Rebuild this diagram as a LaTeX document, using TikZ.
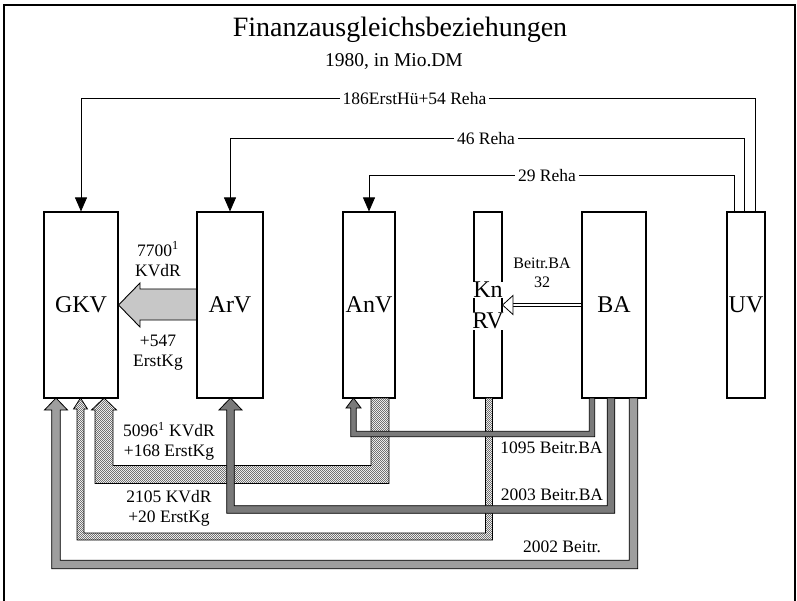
\documentclass[tikz,border=0pt]{standalone}
\usepackage{fontspec}
\setmainfont{Liberation Serif}
\usetikzlibrary{arrows.meta,patterns}
\pgfdeclarepatternformonly{finecheck}{\pgfpointorigin}{\pgfpoint{2.4pt}{2.4pt}}{\pgfpoint{2.4pt}{2.4pt}}{%
  \pgfpathrectangle{\pgfpointorigin}{\pgfpoint{1.2pt}{1.2pt}}%
  \pgfpathrectangle{\pgfpoint{1.2pt}{1.2pt}}{\pgfpoint{1.2pt}{1.2pt}}%
  \pgfusepath{fill}}
% band flow: #1 style, #2 x source, #3 x target, #4 y bottom, #5 half width, #6 head half width, #7 head base y
\newcommand{\bandflow}[7]{%
  \path[#1] (#2-#5,398) -- (#2-#5,#4-#5) -- (#3+#5,#4-#5) -- (#3+#5,#7) -- (#3+#6,#7)
    -- (#3,398) -- (#3-#6,#7) -- (#3-#5,#7) -- (#3-#5,#4+#5) -- (#2+#5,#4+#5) -- (#2+#5,398) -- cycle;}
\begin{document}
\begin{tikzpicture}[x=1pt,y=-1pt,
  box/.style={draw, line width=1.1pt, minimum height=186pt, inner sep=0pt, font=\fontsize{24}{28}\selectfont},
  lbl/.style={font=\fontsize{17.5}{20}\selectfont, inner sep=1pt, align=center},
  thinline/.style={line width=0.8pt},
  tiptri/.style={-{Triangle[width=12pt,length=14pt]}},
  dotband/.style={draw, line width=0.8pt, preaction={fill=white}, pattern=finecheck, pattern color=black!55},
  darkband/.style={draw, line width=0.8pt, fill=black!52},
  midband/.style={draw, line width=0.8pt, fill=black!38}]
\useasboundingbox (0,0) rectangle (797,601);
\fill[white] (0,0) rectangle (797,601);
% frame
\draw[line width=1.2pt] (4,601) -- (4,5) -- (795,5) -- (795,601);
% title
\node[font=\fontsize{28}{32}\selectfont, anchor=base] (title) at (400,37) {Finanzausgleichsbeziehungen};
\node[font=\fontsize{19.5}{22}\selectfont, anchor=base] (subtitle) at (394,67) {1980, in Mio.DM};
% boxes
\node[box, minimum width=74pt] (GKV) at (81,305) {GKV};
\node[box, minimum width=66pt] (ArV) at (230,305) {ArV};
\node[box, minimum width=52pt] (AnV) at (369,305) {AnV};
\node[box, minimum width=28pt] (KnRV) at (488,305) {};
\node[box, minimum width=64pt] (BA) at (614,305) {BA};
\node[box, minimum width=38pt] (UV) at (746,305) {UV};
\node[font=\fontsize{24}{28}\selectfont, fill=white, inner sep=0.5pt] (kn) at (488,290) {Kn};
\node[font=\fontsize{24}{28}\selectfont, fill=white, inner sep=0.5pt] (rv) at (488,321) {RV};
% top connectors
\draw[thinline, tiptri] ([xshift=9pt]UV.north) -- ++(0,-113) -| (GKV.north);
\draw[thinline, tiptri] ([xshift=-2pt]UV.north) -- ++(0,-73) -| (ArV.north);
\draw[thinline, tiptri] ([xshift=-12pt]UV.north) -- ++(0,-36) -| (AnV.north);
\node[lbl, fill=white, inner xsep=3pt] (l186) at (414.5,99) {186ErstHü+54 Reha};
\node[lbl, fill=white, inner xsep=3pt] (l46) at (486,139) {46 Reha};
\node[lbl, fill=white, inner xsep=3pt] (l29) at (547,176) {29 Reha};
% big arrow ArV -> GKV
\path[draw, line width=0.9pt, fill=black!22] ([yshift=16pt]ArV.west) -- (140,289) -- (140,283) -- (GKV.east)
  -- (140,327) -- (140,320) -- ([yshift=-15pt]ArV.west) -- cycle;
\node[lbl] (l7700) at (158,259) {7700\textsuperscript{1}\\KVdR};
\node[lbl] (l547) at (158,353) {+547\\ErstKg};
% BA -> KnRV open arrow
\draw[line width=0.8pt, double=white, double distance=2.6pt] (BA.west) -- (513,305);
\draw[line width=0.8pt, fill=white] (513,295.5) -- (KnRV.east) -- (513,314.5) -- cycle;
\node[lbl, font=\fontsize{16}{19}\selectfont] (lbeitr) at (542,273) {Beitr.BA\\32};
% bottom flows
\bandflow{dotband}{380}{104}{474.5}{9}{12.5}{410}
\bandflow{dotband}{489}{80.5}{536.5}{3.5}{7}{409}
\bandflow{darkband}{592}{353.5}{434}{2.7}{7.5}{408}
\bandflow{darkband}{611}{230.5}{509.5}{3.8}{11.5}{410}
\bandflow{midband}{633.5}{56}{564.5}{4.3}{11.5}{410}
% bottom labels
\node[lbl] (l5096) at (169,441) {5096\textsuperscript{1} KVdR\\+168 ErstKg};
\node[lbl] (l2105) at (169,508) {2105 KVdR\\+20 ErstKg};
\node[lbl] (l1095) at (551.5,448) {1095 Beitr.BA};
\node[lbl] (l2003) at (552,495) {2003 Beitr.BA};
\node[lbl] (l2002) at (562,547) {2002 Beitr.};
\end{tikzpicture}
\end{document}
